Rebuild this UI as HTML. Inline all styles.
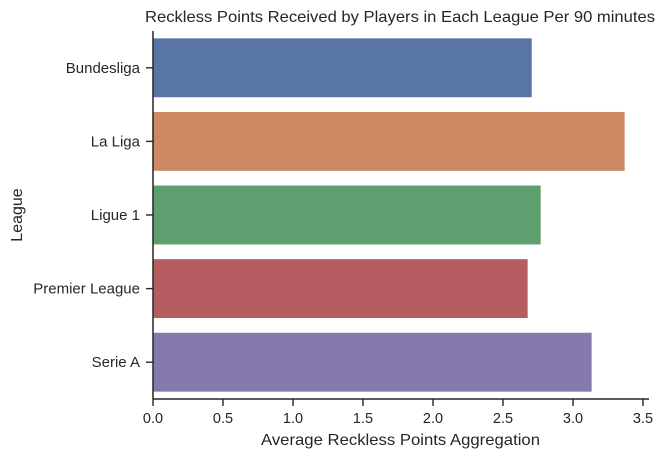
<!DOCTYPE html>
<html><head><meta charset="utf-8"><style>
body{margin:0;background:#fff}
svg text{font-family:"Liberation Sans","DejaVu Sans",sans-serif;fill:#262626}
</style></head><body>
<svg id="chart" width="666" height="457" viewBox="0 0 666 457" xmlns="http://www.w3.org/2000/svg">
<text x="145" y="22" font-size="16" textLength="510" lengthAdjust="spacingAndGlyphs">Reckless Points Received by Players in Each League Per 90 minutes</text>
<text x="261" y="445" font-size="16" textLength="279" lengthAdjust="spacingAndGlyphs">Average Reckless Points Aggregation</text>
<text x="22" y="215" font-size="16" text-anchor="middle" transform="rotate(-90 22 215)">League</text>
<g id="bars"></g><g id="axes"></g>
</svg>
<script>
const categories=["Bundesliga","La Liga","Ligue 1","Premier League","Serie A"];
const values=[2.705,3.369,2.769,2.676,3.133];
const colors=["#5875a4","#cc8963","#5f9e6e","#b55d60","#857aab"];
const xTicks=[0,0.5,1,1.5,2,2.5,3,3.5];
const tickLabels=["0.0","0.5","1.0","1.5","2.0","2.5","3.0","3.5"];
const NS="http://www.w3.org/2000/svg";
const X0=153,XS=140,TOP=31,BOT=399;
const band=(BOT-TOP)/categories.length;
const xs=v=>X0+v*XS;
const yc=i=>TOP+band*(i+0.5);
const bars=document.getElementById('bars'),axes=document.getElementById('axes');
function mk(t,a,p){const e=document.createElementNS(NS,t);for(const k in a)e.setAttribute(k,a[k]);p.appendChild(e);return e;}
values.forEach((v,i)=>{
  const r=mk('rect',{x:xs(0),y:yc(i)-band*0.4,width:xs(v)-xs(0),height:band*0.8,fill:colors[i]},bars);
  
  
  const tk=mk('line',{x1:X0-7,x2:X0,y1:yc(i),y2:yc(i),stroke:'#262626','stroke-width':1.4},axes);
  
  
  const t=mk('text',{x:X0-13,y:yc(i)+5,'font-size':15,'text-anchor':'end'},axes);
  t.textContent=categories[i];
  
  
});
xTicks.forEach((v,i)=>{
  const tk=mk('line',{x1:xs(v),x2:xs(v),y1:BOT,y2:BOT+7,stroke:'#262626','stroke-width':1.4},axes);
  
  
  const t=mk('text',{x:xs(v),y:BOT+24,'font-size':14.5,'text-anchor':'middle'},axes);
  t.textContent=tickLabels[i];
  
  
});
const ls=mk('line',{x1:X0,x2:X0,y1:TOP,y2:BOT,stroke:'#262626','stroke-width':1.5},axes);


const bs=mk('line',{x1:X0,x2:649,y1:BOT,y2:BOT,stroke:'#262626','stroke-width':1.5},axes);


</script>
</body></html>
